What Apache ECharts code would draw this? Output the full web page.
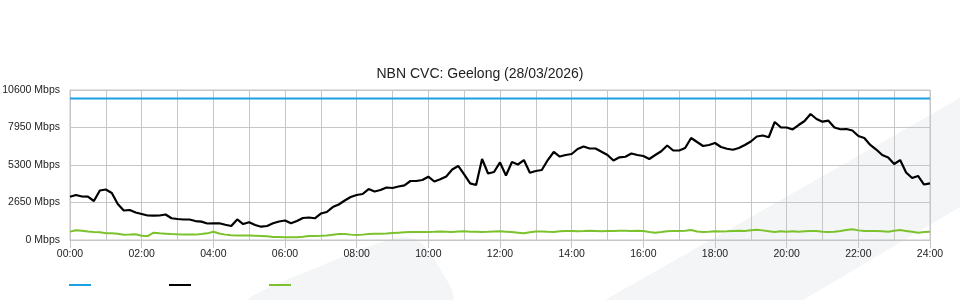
<!DOCTYPE html>
<html>
<head>
<meta charset="utf-8">
<script src="https://cdn.jsdelivr.net/npm/echarts@6/dist/echarts.min.js"></script>
<style>
html,body{margin:0;padding:0;background:#fff;}
#chart{width:960px;height:300px;}
</style>
</head>
<body>
<div id="chart"></div>
<script>
// ---- Data (10-minute samples, 00:00 .. 24:00) ----
const sampleMinutes = 10;
const chartTitle = 'NBN CVC: Geelong (28/03/2026)';
const seriesNames = ['Capacity', 'Download', 'Upload'];
const xTickLabels = ['00:00','02:00','04:00','06:00','08:00','10:00','12:00','14:00','16:00','18:00','20:00','22:00','24:00'];
const yTickLabels = ['0 Mbps','2650 Mbps','5300 Mbps','7950 Mbps','10600 Mbps'];
const capacityMbps = 10000;

const downloadMbps = [
  3060,3180,3075,3060,2755,3500,3570,3320,2545,2085,
  2120,1945,1840,1730,1720,1730,1800,1535,1485,1450,
  1450,1340,1295,1165,1180,1180,1080,990,1450,1130,
  1250,1060,940,990,1180,1310,1380,1180,1340,1555,
  1590,1535,1870,1980,2330,2510,2790,3040,3180,3250,
  3600,3430,3530,3710,3675,3780,3865,4170,4170,4240,
  4475,4135,4290,4490,4980,5230,4630,4005,3885,5725,
  4700,4805,5480,4560,5510,5335,5650,4755,4875,4945,
  5650,6220,5900,6005,6075,6430,6610,6465,6465,6240,
  6005,5620,5845,5885,6115,6005,5935,5725,6005,6270,
  6680,6325,6325,6500,7210,6925,6645,6715,6855,6570,
  6450,6380,6500,6715,6960,7315,7385,7260,8340,7965,
  7950,7810,8125,8410,8905,8550,8360,8430,7950,7825,
  7845,7740,7350,7210,6715,6395,6005,5830,5370,5650,
  4770,4380,4525,3920,4005
];

const uploadMbps = [
  590,690,650,600,570,545,475,475,440,370,
  380,400,300,280,520,470,450,420,400,390,
  380,380,420,470,580,460,380,340,320,320,
  310,300,290,260,220,210,200,190,200,230,
  280,290,300,320,370,420,420,380,350,380,
  420,450,450,460,500,520,540,560,560,570,
  565,580,600,590,570,600,610,590,580,560,
  575,600,610,590,570,520,470,540,600,600,
  580,570,610,630,640,620,630,650,640,620,
  630,640,650,660,640,650,630,560,520,560,
  620,630,640,660,700,600,560,580,620,600,
  610,630,650,640,690,720,680,620,560,610,
  590,620,580,620,640,630,590,560,590,640,
  700,760,680,640,630,630,610,590,650,700,
  640,580,520,560,580
];

// ---- Build series data ----
const toPairs = arr => arr.map((v, i) => [i * sampleMinutes, v]);
const capacityData = downloadMbps.map((_, i) => [i * sampleMinutes, capacityMbps]);

const FONT = "'Liberation Sans', Arial, sans-serif";
const GRID_COLOR = '#c6c6c6';
const colors = ['#1ba0e2', '#000000', '#7cc22c'];

const chart = echarts.init(document.getElementById('chart'), null, {renderer: 'canvas'});

const legendBase = (name, left) => ({
  data: [name],
  left: left,
  top: 284,
  padding: 0,
  icon: 'rect',
  itemWidth: 22,
  itemHeight: 2,
  formatter: () => '',
  textStyle: {fontSize: 1},
  selectedMode: false
});

chart.setOption({
  animation: false,
  backgroundColor: '#ffffff',
  color: colors,
  title: {
    text: chartTitle,
    left: 'center',
    top: 62,
    textStyle: {fontFamily: FONT, fontSize: 14, fontWeight: 'normal', color: '#222'}
  },
  graphic: [
    {
      type: 'polygon', z: -10, silent: true,
      shape: {points: [[605,300],[960,98],[960,207],[803,300]]},
      style: {fill: '#f4f5f7'}
    },
    {
      type: 'polygon', z: -10, silent: true,
      shape: {points: [[250,300],[330,262],[395,238],[418,240],[436,262],[452,300]], smooth: 0.25},
      style: {fill: '#f4f5f7'}
    }
  ],
  legend: [
    legendBase(seriesNames[0], 69),
    legendBase(seriesNames[1], 169),
    legendBase(seriesNames[2], 269)
  ],
  grid: {
    left: 70, right: 30, top: 90, bottom: 60,
    containLabel: false,
    outerBoundsMode: 'none',
    show: true, borderColor: GRID_COLOR, borderWidth: 1, backgroundColor: 'transparent'
  },
  xAxis: {
    type: 'value',
    min: 0, max: 1440, interval: 120,
    axisLine: {show: true, lineStyle: {color: GRID_COLOR}},
    axisTick: {show: true, length: 8, lineStyle: {color: GRID_COLOR}},
    minorTick: {show: false, splitNumber: 2},
    minorSplitLine: {show: true, lineStyle: {color: GRID_COLOR, width: 1}},
    splitLine: {show: true, lineStyle: {color: GRID_COLOR, width: 1}},
    axisLabel: {
      margin: 9,
      fontFamily: FONT, fontSize: 10.5, color: '#222',
      formatter: v => xTickLabels[Math.round(v / 120)] || ''
    }
  },
  yAxis: {
    type: 'value',
    min: 0, max: 10600, interval: 2650,
    axisLine: {show: true, lineStyle: {color: GRID_COLOR}},
    axisTick: {show: false},
    splitLine: {show: true, lineStyle: {color: GRID_COLOR, width: 1}},
    axisLabel: {
      margin: 10,
      fontFamily: FONT, fontSize: 10.5, color: '#222',
      formatter: v => yTickLabels[Math.round(v / 2650)] || ''
    }
  },
  series: [
    {
      name: seriesNames[0], type: 'line', data: capacityData,
      showSymbol: false, symbol: 'none',
      lineStyle: {width: 2, color: colors[0]}, itemStyle: {color: colors[0]}, z: 3
    },
    {
      name: seriesNames[1], type: 'line', data: toPairs(downloadMbps),
      showSymbol: false, symbol: 'none',
      lineStyle: {width: 2.2, color: colors[1]}, itemStyle: {color: colors[1]}, z: 4
    },
    {
      name: seriesNames[2], type: 'line', data: toPairs(uploadMbps),
      showSymbol: false, symbol: 'none',
      lineStyle: {width: 2, color: colors[2]}, itemStyle: {color: colors[2]}, z: 3
    }
  ]
});
</script>
</body>
</html>
